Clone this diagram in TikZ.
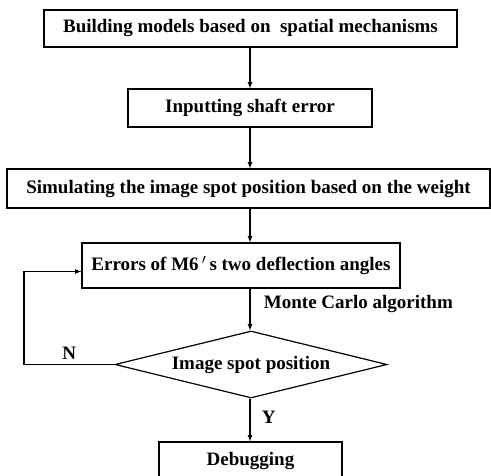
\documentclass[tikz,border=0pt]{standalone}
\usepackage{fontspec}
\setmainfont{Liberation Serif}
\usepackage{tikz}
\usetikzlibrary{arrows}
\usetikzlibrary{shapes.geometric}

\tikzset{
  procbox/.style={draw, line width=1.2pt, inner sep=0pt,
    font=\fontsize{19}{21}\selectfont\bfseries},
  decide/.style={draw, diamond, aspect=4, line width=1.2pt, inner sep=0pt,
    font=\fontsize{19}{21}\selectfont\bfseries},
  flow/.style={line width=1.2pt, -latex},
  note/.style={font=\fontsize{19}{21}\selectfont\bfseries}
}

\begin{document}
\begin{tikzpicture}[x=1pt,y=-1pt]
    \useasboundingbox[fill=white] (0,0) rectangle (491,475);
    \node[procbox, minimum width=413pt, minimum height=37pt] (build) at (250.5,28.5)
      {Building models based on\ \ spatial mechanisms};
    \node[procbox, minimum width=244pt, minimum height=38pt] (shaft) at (250,108)
      {Inputting shaft error};
    \node[procbox, minimum width=483pt, minimum height=39pt] (sim) at (248.5,188.5)
      {Simulating the image spot position based on the weight};
    \node[procbox, minimum width=318pt, minimum height=45pt] (defl) at (241,265.5)
      {Errors of M6\,$'$\,s two deflection angles};
    \node[decide, minimum width=272pt, minimum height=67pt] (spot) at (251,364.5)
      {Image spot position};
    \node[procbox, minimum width=183pt, minimum height=38pt] (debug) at (250.5,461)
      {Debugging};
    \coordinate (back) at (24,364.5);

    \draw[flow] (build.south -| shaft.south) -- (shaft.north);
    \draw[flow] (shaft.south) -- (shaft.south |- sim.north);
    \draw[flow] (shaft.south |- sim.south) -- (shaft.south |- defl.north);
    \draw[flow] (shaft.south |- defl.south) -- (shaft.south |- spot.north)
      node[note, right, pos=0.37, xshift=10pt] {Monte Carlo algorithm};
    \draw[flow] (shaft.south |- spot.south) -- (shaft.south |- debug.north)
      node[note, right, pos=0.43, xshift=8pt] {Y};
    \draw[flow] (spot.west) -- (back) node[note, above, midway, yshift=1pt] {N}
      |- ([yshift=-6pt]defl.west);
\end{tikzpicture}
\end{document}
